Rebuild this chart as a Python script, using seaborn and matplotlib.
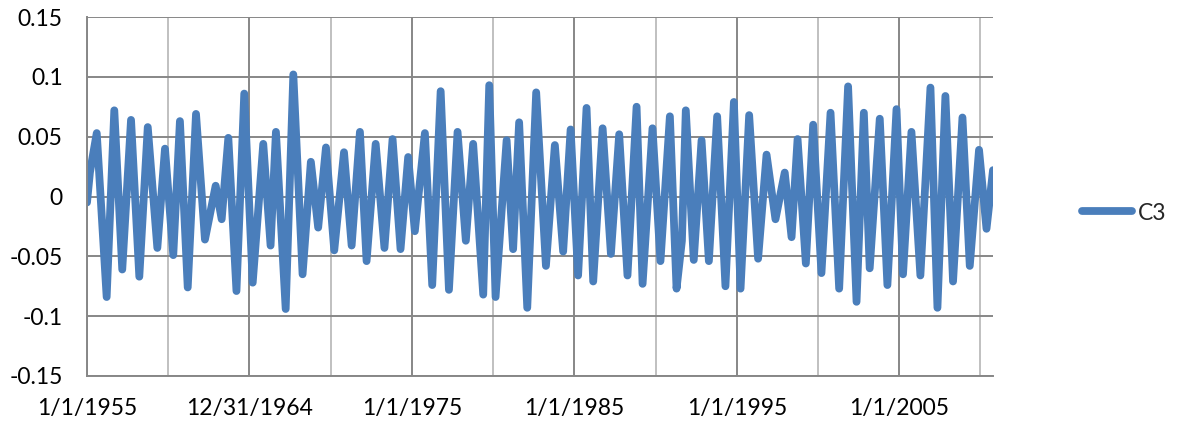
import numpy as np
import pandas as pd
import matplotlib
matplotlib.use("Agg")
import matplotlib.pyplot as plt
import seaborn as sns

years = [
    1955.00, 1955.18, 1955.60, 1956.21, 1956.68, 1957.17, 1957.71, 1958.22, 1958.74, 1959.33,
    1959.80, 1960.31, 1960.72, 1961.20, 1961.71, 1962.26, 1962.92, 1963.29, 1963.70, 1964.20,
    1964.68, 1965.20, 1965.85, 1966.30, 1966.63, 1967.23, 1967.70, 1968.27, 1968.78, 1969.23,
    1969.71, 1970.22, 1970.82, 1971.29, 1971.80, 1972.21, 1972.77, 1973.31, 1973.81, 1974.30,
    1974.77, 1975.18, 1975.80, 1976.25, 1976.77, 1977.28, 1977.81, 1978.32, 1978.77, 1979.39,
    1979.76, 1980.15, 1980.83, 1981.23, 1981.60, 1982.10, 1982.65, 1983.25, 1983.80, 1984.31,
    1984.77, 1985.23, 1985.75, 1986.16, 1986.74, 1987.25, 1987.76, 1988.27, 1988.83, 1989.20,
    1989.81, 1990.30, 1990.88, 1991.29, 1991.62, 1991.86, 1992.35, 1992.83, 1993.28, 1993.79,
    1994.30, 1994.82, 1995.23, 1995.76, 1996.31, 1996.83, 1997.38, 1997.95, 1998.37, 1998.74,
    1999.25, 1999.70, 2000.21, 2000.77, 2001.30, 2001.85, 2002.37, 2002.82, 2003.18, 2003.80,
    2004.27, 2004.83, 2005.23, 2005.75, 2006.30, 2006.92, 2007.35, 2007.84, 2008.31, 2008.89,
    2009.34, 2009.91, 2010.37, 2010.77,
]
c3 = [
    -0.005, 0.020, 0.053, -0.084, 0.072, -0.061, 0.064, -0.067, 0.058, -0.043,
    0.040, -0.049, 0.063, -0.076, 0.069, -0.036, 0.009, -0.019, 0.049, -0.079,
    0.086, -0.072, 0.044, -0.041, 0.054, -0.094, 0.102, -0.065, 0.029, -0.026,
    0.041, -0.045, 0.037, -0.041, 0.054, -0.054, 0.044, -0.043, 0.048, -0.044,
    0.033, -0.029, 0.053, -0.074, 0.088, -0.078, 0.054, -0.037, 0.044, -0.082,
    0.093, -0.084, 0.047, -0.044, 0.062, -0.093, 0.087, -0.058, 0.043, -0.046,
    0.056, -0.066, 0.074, -0.071, 0.057, -0.048, 0.052, -0.066, 0.075, -0.073,
    0.057, -0.054, 0.067, -0.077, -0.037, 0.072, -0.053, 0.047, -0.054, 0.067,
    -0.075, 0.079, -0.077, 0.068, -0.052, 0.035, -0.019, 0.020, -0.034, 0.048,
    -0.056, 0.060, -0.064, 0.070, -0.077, 0.092, -0.088, 0.070, -0.060, 0.065,
    -0.074, 0.073, -0.065, 0.054, -0.066, 0.091, -0.093, 0.084, -0.071, 0.066,
    -0.058, 0.039, -0.027, 0.022,
]

major_years = [1955, 1965, 1975, 1985, 1995, 2005]
major_labels = ["1/1/1955", "12/31/1964", "1/1/1975", "1/1/1985", "1/1/1995", "1/1/2005"]
minor_years = [1960, 1970, 1980, 1990, 2000, 2010]
y_ticks = [-0.15, -0.1, -0.05, 0, 0.05, 0.1, 0.15]
y_labels = ["-0.15", "-0.1", "-0.05", "0", "0.05", "0.1", "0.15"]

df = pd.DataFrame({"year": years, "C3": c3})

sns.set_style("white")
plt.rcParams["font.family"] = ["Lato", "DejaVu Sans"]

fig = plt.figure(figsize=(11.77, 4.28), dpi=100)
ax = fig.add_axes([87 / 1177, 1 - 376 / 428, (993 - 87) / 1177, (376 - 17) / 428])

sns.lineplot(data=df, x="year", y="C3", ax=ax, color="#4A7EBB", linewidth=5.6,
             label="C3", solid_joinstyle="round", solid_capstyle="round")

ax.set_xlim(1955, 2010.77)
ax.set_ylim(-0.15, 0.15)
ax.set_xticks(major_years)
ax.set_xticklabels(major_labels)
ax.set_xticks(minor_years, minor=True)
ax.set_yticks(y_ticks)
ax.set_yticklabels(y_labels)
ax.set_xlabel("")
ax.set_ylabel("")

ax.set_axisbelow(True)
ax.grid(axis="y", which="major", color="#878787", linewidth=1.4)
ax.grid(axis="x", which="major", color="#878787", linewidth=1.4)
ax.grid(axis="x", which="minor", color="#C0C0C0", linewidth=1.4)

ax.tick_params(axis="y", which="major", length=6.5, width=1.4, color="#878787",
               pad=11, labelsize=16.5, labelcolor="black")
ax.tick_params(axis="x", which="both", length=0, pad=16, labelsize=16.5, labelcolor="black")

for side in ["top", "right"]:
    ax.spines[side].set_visible(False)
for side in ["left", "bottom"]:
    ax.spines[side].set_color("#878787")
    ax.spines[side].set_linewidth(1.4)

ax.legend(loc="center left", bbox_to_anchor=(1082 / 1177, 1 - 213 / 428),
          bbox_transform=fig.transFigure, frameon=False, fontsize=16.5,
          handlelength=2.2, handletextpad=0.25, borderpad=0, borderaxespad=0)

fig.savefig("out.png", dpi=100)
